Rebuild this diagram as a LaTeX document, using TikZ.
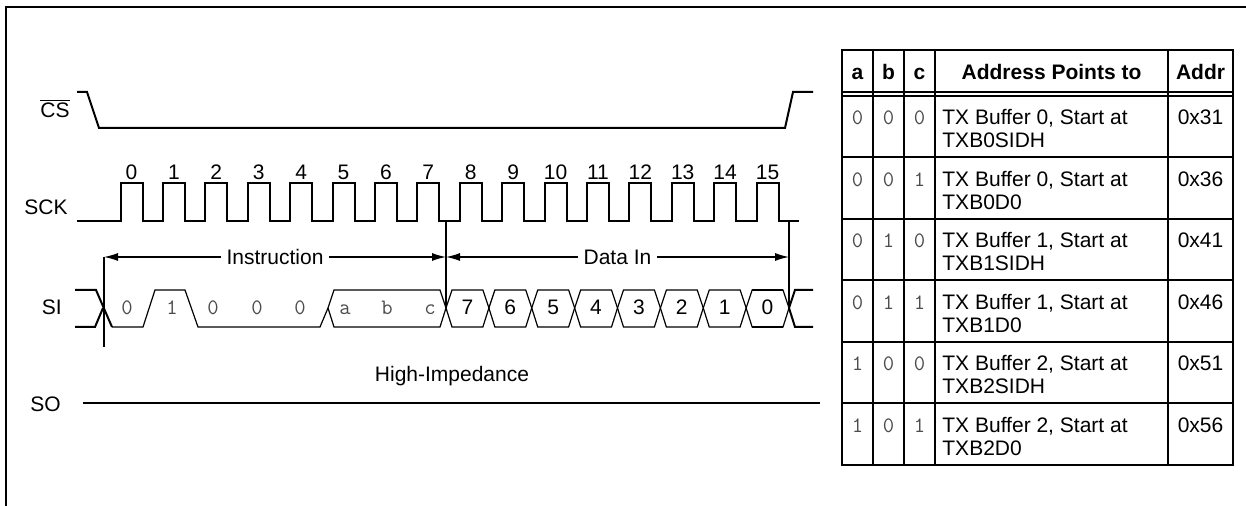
\documentclass[tikz,border=0pt]{standalone}
\usepackage{fontspec}
\setmainfont{Liberation Sans}
\usetikzlibrary{arrows.meta}
\tikzset{
  sig/.style={line width=1pt},
  bus/.style={line width=0.6pt},
  txt/.style={font=\fontsize{10.5}{11.5}\selectfont, inner sep=0pt},
  head/.style={txt, anchor=base, font=\fontsize{10.5}{11.5}\selectfont\bfseries},
  bitval/.style={txt, anchor=base, font=\fontsize{11}{12}\selectfont\ttfamily, text=black!70},
  tabline/.style={line width=1pt},
  dimarrow/.style={line width=0.6pt, {Latex[length=7pt,width=4pt]}-{Latex[length=7pt,width=4pt]}}
}
\begin{document}
\begin{tikzpicture}[x=0.5pt, y=-0.5pt]
            \useasboundingbox (0,0) rectangle (1246,506);
            \draw[line width=1.2pt] (6,506) -- (6,7) -- (1246,7);
            \node[txt, anchor=base east] (cs) at (70,118) {$\overline{\mbox{CS}}$};
            \node[txt, anchor=base east] (sck) at (68,215) {SCK};
            \node[txt, anchor=base east] (si) at (62,315) {SI};
            \node[txt, anchor=base east] (so) at (61,412) {SO};
            \draw[sig] (77,92) -- (87,92) -- (99,128) -- (785,128) -- (793,92) -- (813,92);
            \draw[sig] (77,221) \foreach \k in {0,...,15} {-- ({120.5+42.4*\k},221) -- ++(0,-38) -- ++(22,0) -- ++(0,38)} -- (799,221);
            \foreach \k in {0,...,15}
              \node[txt, anchor=base] (clk\k) at ({131.5+42.4*\k},180) {\k};
            \draw[sig] (75,290) -- (96,290) -- (112,327);
            \draw[sig] (75,327) -- (95,327) -- (103,308);
            \draw[bus] (112,327) -- (143,327) -- (155,290) -- (185,290) -- (198,327) -- (320,327) -- (328,308);
            \draw[bus] (328,308) -- (334,290) -- (440,290) -- (446,308) -- (440,327) -- (334,327) -- cycle;
            \foreach \bv/\x [count=\i] in {0/127,1/172,0/213,0/257,0/300,a/345,b/387,c/430}
              \node[bitval] (ins\i) at (\x,315) {\bv};
            \foreach \dv [count=\i from 0] in {7,...,0} {
              \draw[bus] ({446+42.875*\i},308) -- ++(6,-18) -- ({446+42.875*(\i+1)-6},290) -- ++(6,18) -- ++(-6,19) -- ({446+42.875*\i+6},327) -- cycle;
              \node[txt, anchor=base] (dat\dv) at ({467.4+42.875*\i},315) {\dv};
            }
            \draw[sig] (752,290) -- (783,290);
            \draw[sig] (752,327) -- (783,327);
            \draw[sig] (789,308) -- (795,290) -- (813,290);
            \draw[sig] (789,308) -- (795,327) -- (813,327);
            \coordinate (p0) at (104,257);
            \coordinate (p1) at (446,257);
            \coordinate (p2) at (789,257);
            \draw[sig] (p0) -- ++(0,90);
            \draw[bus] (446,221) -- (446,308);
            \draw[bus] (789,221) -- (789,308);
            \draw[dimarrow] (p0) -- node[txt, fill=white, inner xsep=3pt] (instr) {Instruction} (p1);
            \draw[dimarrow] (p1) -- node[txt, fill=white, inner xsep=3pt] (datain) {Data In} (p2);
            \node[txt, anchor=base] (hiz) at (452,382) {High-Impedance};
            \draw[sig] (83,403) -- (820,403);
            \draw[tabline] (842,50) rectangle (1233,465);
            \foreach \x in {873,904,935,1168}
              \draw[tabline] (\x,50) -- (\x,465);
            \draw[line width=0.8pt] (842,92) -- (1233,92);
            \draw[line width=0.8pt] (842,96) -- (1233,96);
            \foreach \k in {1,...,5}
              \draw[tabline] (842,{96+61.5*\k}) -- (1233,{96+61.5*\k});
            \node[head] (ha) at (857.5,80) {a};
            \node[head] (hb) at (888.5,80) {b};
            \node[head] (hc) at (919.5,80) {c};
            \node[head] (hpt) at (1051.5,80) {Address Points to};
            \node[head] (hadr) at (1200.5,80) {Addr};
            \foreach \ca/\cb/\cc/\buf/\reg/\adr [count=\k from 0] in {0/0/0/0/SIDH/31, 0/0/1/0/D0/36, 0/1/0/1/SIDH/41, 0/1/1/1/D0/46, 1/0/0/2/SIDH/51, 1/0/1/2/D0/56} {
              \node[bitval] (ra\k) at (857.5,{125+61.5*\k}) {\ca};
              \node[bitval] (rb\k) at (888.5,{125+61.5*\k}) {\cb};
              \node[bitval] (rc\k) at (919.5,{125+61.5*\k}) {\cc};
              \node[txt, anchor=base west] (rt\k) at (942,{125+61.5*\k}) {TX Buffer \buf, Start at};
              \node[txt, anchor=base west] (rr\k) at (942,{148+61.5*\k}) {TXB\buf\reg};
              \node[txt, anchor=base] (rv\k) at (1200.5,{125+61.5*\k}) {0x\adr};
            }
\end{tikzpicture}
\end{document}
